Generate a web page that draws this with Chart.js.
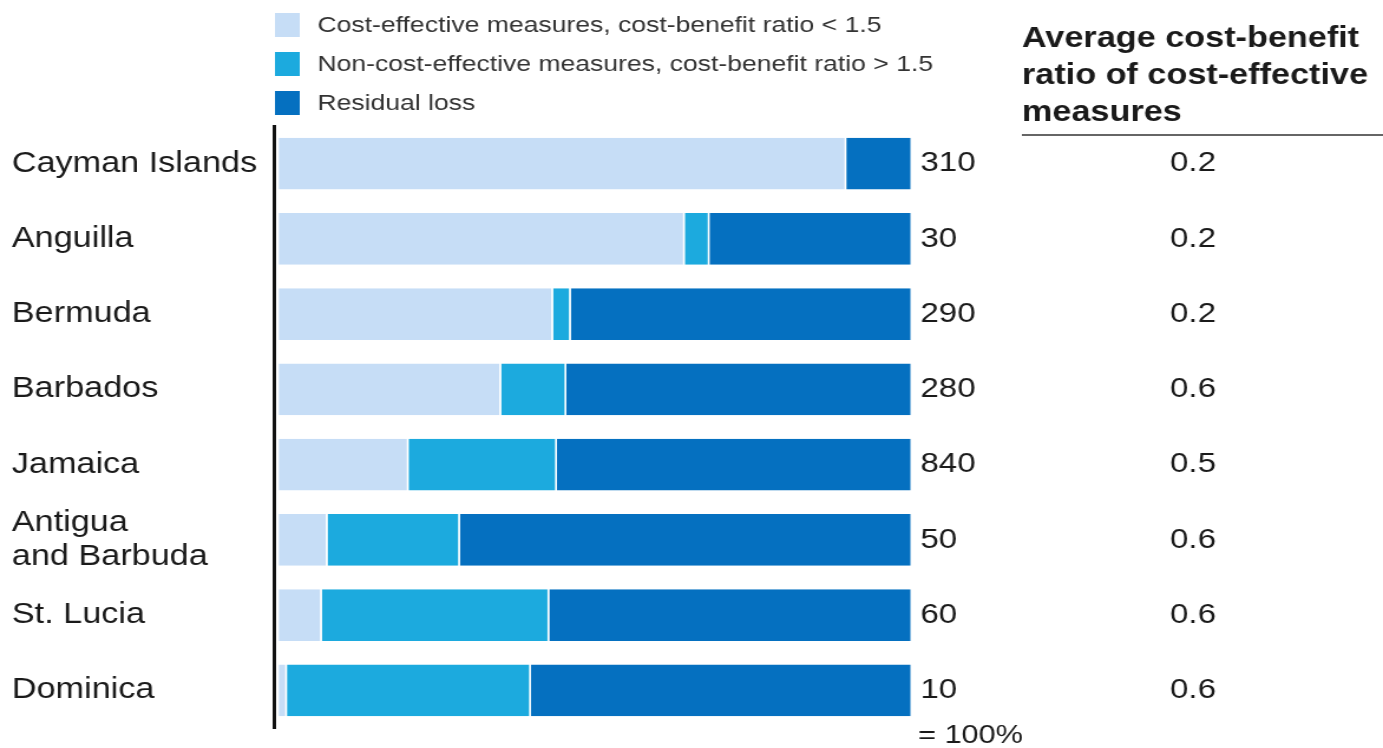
<!DOCTYPE html>
<html><head><meta charset="utf-8">
<script src="https://cdn.jsdelivr.net/npm/chart.js@4"></script>
<style>html,body{margin:0;padding:0;background:#fff;overflow:hidden}
canvas{display:block}</style>
</head><body>
<canvas id="c" width="1172" height="748" style="width:1383px;height:748px"></canvas>
<script>
const categories = ['Cayman Islands','Anguilla','Bermuda','Barbados','Jamaica',['Antigua','and Barbuda'],'St. Lucia','Dominica'];
const costEffective    = [89.6, 64.1, 43.3, 35.1, 20.5, 7.7, 6.8, 1.3];
const nonCostEffective = [0.0, 3.9, 2.8, 10.3, 23.4, 20.9, 35.9, 38.5];
const residualLoss     = [10.4, 32.0, 53.9, 54.6, 56.1, 71.4, 57.3, 60.2];
const totalLoss = ['310','30','290','280','840','50','60','10'];
const avgRatio  = ['0.2','0.2','0.2','0.6','0.5','0.6','0.6','0.6'];
const seriesLabels = ['Cost-effective measures, cost-benefit ratio < 1.5','Non-cost-effective measures, cost-benefit ratio > 1.5','Residual loss'];
const headerLines = ['Average cost-benefit','ratio of cost-effective','measures'];
const totalNote = '= 100%';

const FONT = '"Liberation Sans", Arial, Helvetica, sans-serif';
const colors = ['#c6ddf6','#1caade','#0570c0'];

const annot = {
  id: 'annot',
  afterDraw(chart) {
    const {ctx, scales: {x, y}} = chart;
    ctx.save();
    ctx.textBaseline = 'middle';
    ctx.fillStyle = '#1a1a1a';
    ctx.font = '28px ' + FONT;
    categories.forEach((c, i) => {
      const py = y.getPixelForValue(i);
      ctx.textAlign = 'left';
      ctx.fillText(totalLoss[i], x.right + 7, py);
      ctx.textAlign = 'center';
      ctx.fillText(avgRatio[i], 1011, py);
    });
    ctx.textAlign = 'left';
    ctx.font = '26px ' + FONT;
    ctx.fillText(totalNote, x.right + 5, y.bottom + 8);
    ctx.font = 'bold 29px ' + FONT;
    headerLines.forEach((t, k) => ctx.fillText(t, 866, 39 + k * 37));
    ctx.strokeStyle = '#666';
    ctx.lineWidth = 2;
    ctx.beginPath(); ctx.moveTo(866, 135); ctx.lineTo(1172, 135); ctx.stroke();
    chart.data.datasets.forEach((ds, k) => {
      const cy = 25 + k * 39;
      ctx.fillStyle = ds.backgroundColor;
      ctx.fillRect(233, cy - 12, 21, 24);
      ctx.fillStyle = '#333';
      ctx.font = '22.5px ' + FONT;
      ctx.fillText(ds.label, 269, cy + 1);
    });
    ctx.restore();
  }
};

const seriesData = [costEffective, nonCostEffective, residualLoss];
new Chart(document.getElementById('c'), {
  type: 'bar',
  data: {
    labels: categories,
    datasets: seriesData.map((d, k) => ({
      label: seriesLabels[k],
      data: d,
      backgroundColor: colors[k],
      borderColor: 'rgba(255,255,255,0.85)',
      borderWidth: {top: 0, bottom: 0, left: 0, right: 1.5},
      borderSkipped: false,
      barPercentage: 0.69,
      categoryPercentage: 1
    }))
  },
  options: {
    indexAxis: 'y',
    responsive: false,
    animation: false,
    devicePixelRatio: 1,
    layout: {padding: {left: 10, right: 399, top: 126, bottom: 20}},
    plugins: {legend: {display: false}, tooltip: {enabled: false}},
    scales: {
      x: {stacked: true, display: false, min: -0.78, max: 100},
      y: {
        stacked: true,
        grid: {display: false},
        border: {display: true, color: '#111', width: 3},
        ticks: {crossAlign: 'far', padding: 0, color: '#1a1a1a', font: {family: FONT, size: 29, lineHeight: 1.17}},
        afterFit(s) { s.width = 222; }
      }
    }
  },
  plugins: [annot]
});
</script>
</body></html>
